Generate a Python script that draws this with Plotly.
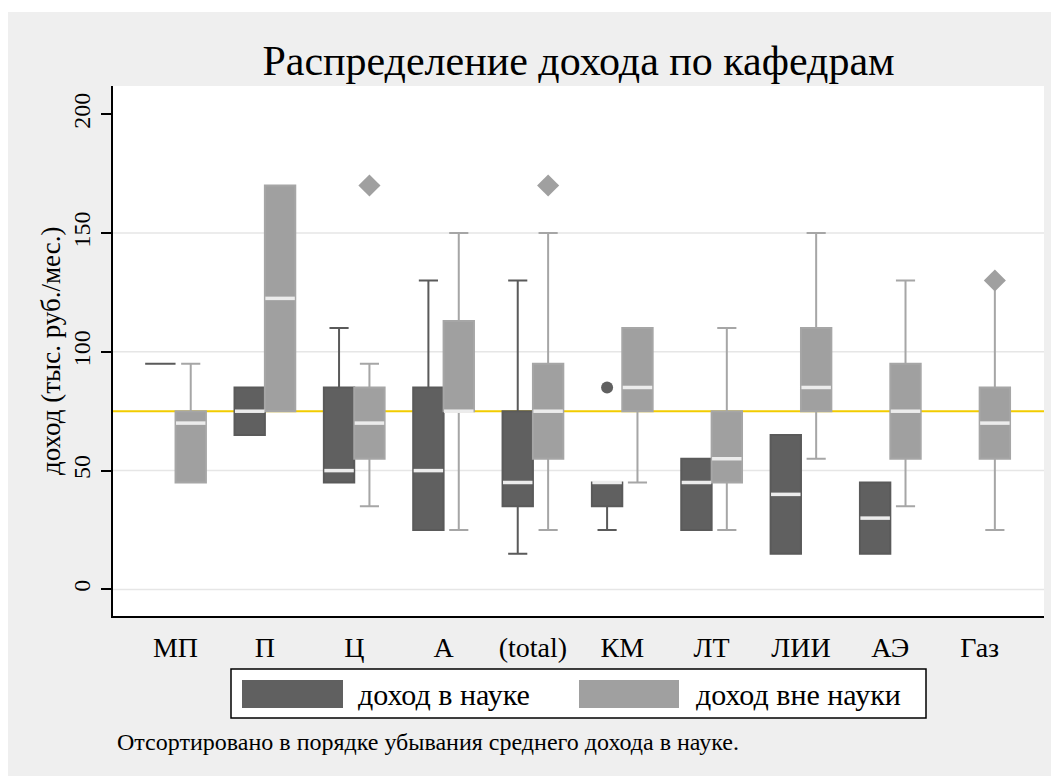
import plotly.graph_objects as go

# kafedry, sorted by mean income in science
cats = ['МП', 'П', 'Ц', 'А', '(total)', 'КМ', 'ЛТ', 'ЛИИ', 'АЭ', 'Газ']

# доход в науке (None = no data)
sci_lo  = [95, 65, 45, 25, 15, 25, 25, 15, 15, None]
sci_q1  = [95, 65, 45, 25, 35, 35, 25, 15, 15, None]
sci_med = [95, 75, 50, 50, 45, 45, 45, 40, 30, None]
sci_q3  = [95, 85, 85, 85, 75, 45, 55, 65, 45, None]
sci_hi  = [95, 85, 110, 130, 130, 45, 55, 65, 45, None]
sci_out_cat = ['КМ']
sci_out_val = [85]

# доход вне науки
out_lo  = [45, 75, 35, 25, 25, 45, 25, 55, 35, 25]
out_q1  = [45, 75, 55, 75, 55, 75, 45, 75, 55, 55]
out_med = [70, 122.5, 70, 75, 75, 85, 55, 85, 75, 70]
out_q3  = [75, 170, 85, 113, 95, 110, 75, 110, 95, 85]
out_hi  = [95, 170, 95, 150, 150, 110, 110, 150, 130, 130]
out_out_cat = ['Ц', '(total)', 'Газ']
out_out_val = [170, 170, 130]

ref_line = 75
grid_vals = [0, 50, 100, 150]

DARK = '#606060'
LIGHT = '#a0a0a0'
MED = '#ececec'
BW = 0.34          # box width in category units
OFF = BW / 2
FONT = 'Liberation Serif'

# page geometry (px); the page body adds an 8px margin
W_PX, H_PX = 1059, 776
PAGE = 8
L, R, T, B = 105, 23, 78, 168
PW, PH = W_PX - L - R, H_PX - T - B


def px_x(px):
    # page pixel -> paper x
    return (px - PAGE - L) / PW


def px_y(py):
    return (T + PH - (py - PAGE)) / PH


fig = go.Figure()


def add_series(lo, q1, med, q3, hi, shift, fill, wcol):
    idx = [i for i in range(len(cats)) if q1[i] is not None]
    pos = [i + shift for i in idx]
    fig.add_trace(go.Box(
        x=pos,
        q1=[q1[i] for i in idx],
        median=[med[i] for i in idx],
        q3=[q3[i] for i in idx],
        lowerfence=[lo[i] for i in idx],
        upperfence=[hi[i] for i in idx],
        width=BW, whiskerwidth=0.63,
        fillcolor=fill, line=dict(color=wcol, width=2),
        orientation='v', boxpoints=False, showlegend=False,
        hoverinfo='skip'))
    # median bars drawn in light colour
    mx, my = [], []
    for i, p in zip(idx, pos):
        if q3[i] > q1[i]:
            mx += [p - BW / 2 + 0.005, p + BW / 2 - 0.005, None]
            my += [med[i], med[i], None]
    fig.add_trace(go.Scatter(x=mx, y=my, mode='lines',
                             line=dict(color=MED, width=3.5),
                             showlegend=False, hoverinfo='skip'))


add_series(sci_lo, sci_q1, sci_med, sci_q3, sci_hi, -OFF, DARK, '#5a5a5a')
add_series(out_lo, out_q1, out_med, out_q3, out_hi, OFF, LIGHT, '#a6a6a6')

fig.add_trace(go.Scatter(
    x=[cats.index(c) - OFF for c in sci_out_cat], y=sci_out_val,
    mode='markers', marker=dict(symbol='circle', size=12, color=DARK),
    showlegend=False, hoverinfo='skip'))
fig.add_trace(go.Scatter(
    x=[cats.index(c) + OFF for c in out_out_cat], y=out_out_val,
    mode='markers', marker=dict(symbol='diamond', size=17, color=LIGHT),
    showlegend=False, hoverinfo='skip'))

shapes = []
for g in grid_vals:
    shapes.append(dict(type='line', xref='paper', yref='y', x0=0, x1=1,
                       y0=g, y1=g, layer='below',
                       line=dict(color='#e6e6e6', width=1.5)))
shapes.append(dict(type='line', xref='paper', yref='y', x0=0, x1=1,
                   y0=ref_line, y1=ref_line, layer='below',
                   line=dict(color='#f2cc00', width=2)))
# thin white strip at the top of the export
shapes.append(dict(type='rect', xref='paper', yref='paper',
                   x0=px_x(0), x1=px_x(W_PX + 20), y0=px_y(12), y1=px_y(0),
                   fillcolor='white', line_width=0))
# legend box
shapes.append(dict(type='rect', xref='paper', yref='paper',
                   x0=px_x(231), x1=px_x(926), y0=px_y(718), y1=px_y(669),
                   fillcolor='white', line=dict(color='black', width=1.5)))
shapes.append(dict(type='rect', xref='paper', yref='paper',
                   x0=px_x(242), x1=px_x(343), y0=px_y(708), y1=px_y(680),
                   fillcolor=DARK, line_width=0))
shapes.append(dict(type='rect', xref='paper', yref='paper',
                   x0=px_x(579), x1=px_x(679), y0=px_y(708), y1=px_y(680),
                   fillcolor=LIGHT, line_width=0))

annotations = [
    dict(text='доход в науке', xref='paper', yref='paper',
         x=px_x(356), y=px_y(694), xanchor='left', yanchor='middle',
         showarrow=False, font=dict(size=30, color='black', family=FONT)),
    dict(text='доход вне науки', xref='paper', yref='paper',
         x=px_x(694), y=px_y(694), xanchor='left', yanchor='middle',
         showarrow=False, font=dict(size=30, color='black', family=FONT)),
    dict(text='Отсортировано в порядке убывания среднего дохода в науке.',
         xref='paper', yref='paper', x=px_x(115), y=px_y(742),
         xanchor='left', yanchor='middle', showarrow=False,
         font=dict(size=24, color='black', family=FONT)),
    dict(text='доход (тыс. руб./мес.)', xref='paper', yref='paper',
         x=px_x(51), y=0.5, textangle=-90, xanchor='center',
         yanchor='middle', showarrow=False,
         font=dict(size=27, color='black', family=FONT)),
]

fig.update_layout(
    width=W_PX, height=H_PX,
    margin=dict(l=L, r=R, t=T, b=B),
    paper_bgcolor='#efefef', plot_bgcolor='white',
    boxmode='overlay', showlegend=False,
    font=dict(family=FONT, color='black'),
    title=dict(text='Распределение дохода по кафедрам',
               x=px_x(578.5), xref='paper', xanchor='center',
               y=1 - (60 - PAGE) / H_PX, yanchor='middle',
               font=dict(size=42, color='black', family=FONT)),
    shapes=shapes, annotations=annotations,
)
fig.update_xaxes(range=[-0.70, 9.72], tickvals=list(range(len(cats))),
                 ticktext=cats, showgrid=False, zeroline=False,
                 showline=True, linecolor='black', linewidth=2,
                 ticks='', ticklabelstandoff=5,
                 tickfont=dict(size=28, family=FONT))
fig.update_yaxes(range=[-11.2, 211.9], tickvals=[0, 50, 100, 150, 200],
                 showgrid=False, zeroline=False, showline=True,
                 linecolor='black', linewidth=2, ticks='outside',
                 ticklen=10, tickcolor='black', tickwidth=2,
                 tickangle=-90, ticklabelstandoff=1,
                 tickfont=dict(size=24, family=FONT))

fig.write_html('out.html')
